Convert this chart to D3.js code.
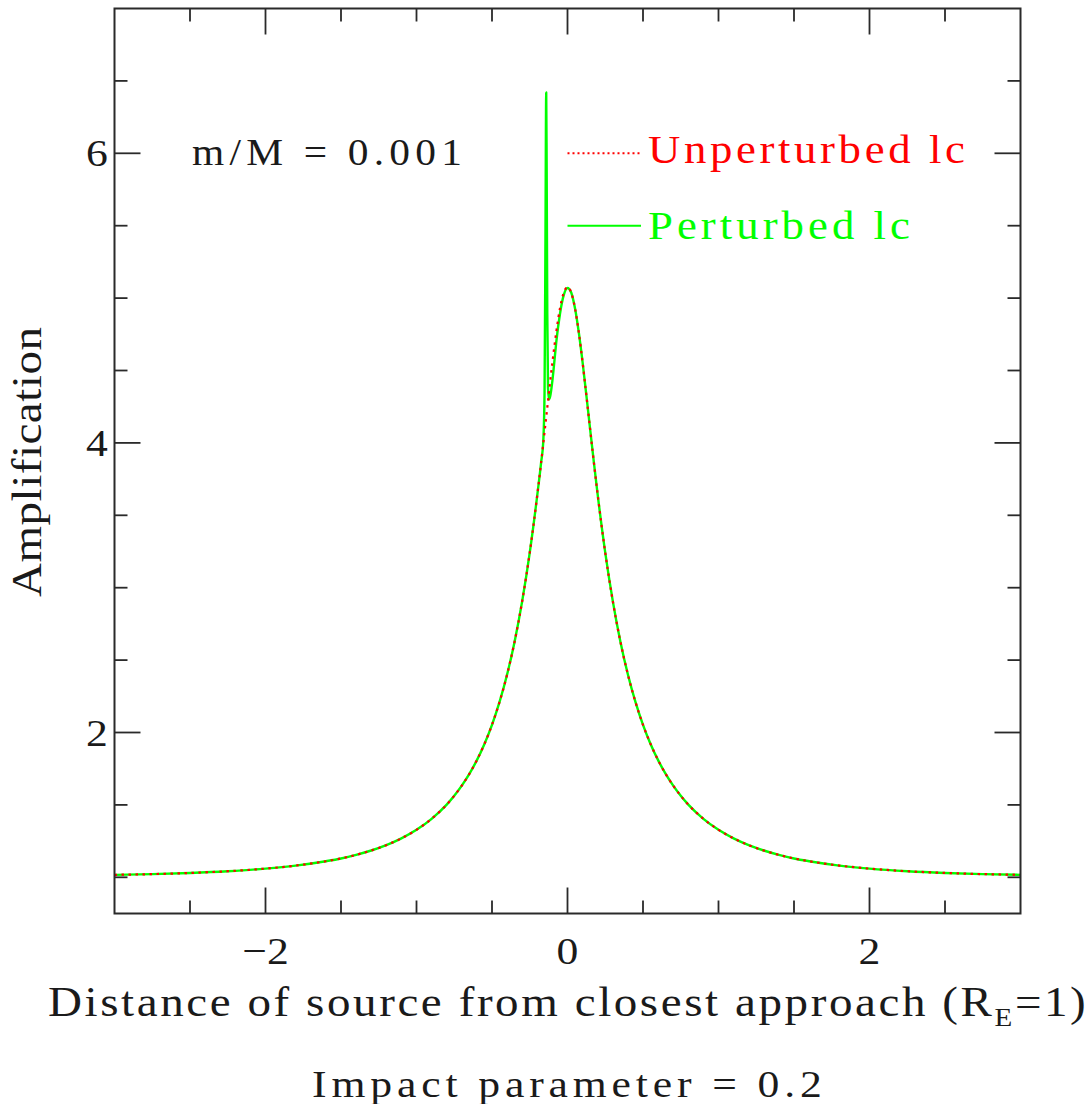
<!DOCTYPE html>
<html>
<head>
<meta charset="utf-8">
<script src="https://cdn.jsdelivr.net/npm/d3@7"></script>
<style>
  html, body { margin: 0; padding: 0; background: #fff; }
  svg { display: block; }
  text { font-family: "Liberation Serif", "DejaVu Serif", serif; fill: #1a1a1a; }
</style>
</head>
<body>
<svg id="chart" width="1092" height="1104"></svg>
<script>
// ---------- data ----------
const unpertX = [-3, -2.75, -2.5, -2.25, -2, -1.8, -1.6, -1.5, -1.4, -1.3, -1.2, -1.1, -1, -0.9, -0.8, -0.75, -0.7, -0.65, -0.6, -0.55, -0.5, -0.45, -0.4, -0.35, -0.3, -0.25, -0.2, -0.175, -0.15, -0.125, -0.1, -0.075, -0.05, -0.025, 0, 0.025, 0.05, 0.075, 0.1, 0.125, 0.15, 0.175, 0.2, 0.25, 0.3, 0.35, 0.4, 0.45, 0.5, 0.55, 0.6, 0.65, 0.7, 0.75, 0.8, 0.9, 1, 1.1, 1.2, 1.3, 1.4, 1.5, 1.6, 1.8, 2, 2.25, 2.5, 2.75, 3];
const unpertA = [1.017, 1.022, 1.030, 1.042, 1.060, 1.081, 1.111, 1.130, 1.155, 1.185, 1.222, 1.269, 1.328, 1.404, 1.502, 1.563, 1.633, 1.714, 1.809, 1.921, 2.053, 2.211, 2.400, 2.629, 2.907, 3.242, 3.641, 3.862, 4.093, 4.328, 4.556, 4.761, 4.928, 5.037, 5.075, 5.037, 4.928, 4.761, 4.556, 4.328, 4.093, 3.862, 3.641, 3.242, 2.907, 2.629, 2.400, 2.211, 2.053, 1.921, 1.809, 1.714, 1.633, 1.563, 1.502, 1.404, 1.328, 1.269, 1.222, 1.185, 1.155, 1.130, 1.111, 1.081, 1.060, 1.042, 1.030, 1.022, 1.017];

const pertX = [-3, -2.75, -2.5, -2.25, -2, -1.8, -1.6, -1.5, -1.4, -1.3, -1.2, -1.1, -1, -0.9, -0.8, -0.75, -0.7, -0.65, -0.6, -0.55, -0.5, -0.45, -0.4, -0.35, -0.3, -0.25, -0.2, -0.175, -0.16, -0.152, -0.146, -0.141, -0.138, -0.134, -0.129, -0.122, -0.115, -0.1, -0.09, -0.075, -0.05, -0.025, 0, 0.025, 0.05, 0.075, 0.1, 0.125, 0.15, 0.175, 0.2, 0.25, 0.3, 0.35, 0.4, 0.45, 0.5, 0.55, 0.6, 0.65, 0.7, 0.75, 0.8, 0.9, 1, 1.1, 1.2, 1.3, 1.4, 1.5, 1.6, 1.8, 2, 2.25, 2.5, 2.75, 3];
const pertA = [1.017, 1.022, 1.030, 1.042, 1.060, 1.081, 1.111, 1.130, 1.155, 1.185, 1.222, 1.269, 1.328, 1.404, 1.502, 1.563, 1.633, 1.714, 1.809, 1.921, 2.053, 2.211, 2.400, 2.629, 2.907, 3.242, 3.641, 3.862, 4.02, 4.35, 5.40, 6.42, 5.90, 4.90, 4.38, 4.30, 4.32, 4.43, 4.53, 4.69, 4.89, 5.02, 5.07, 5.037, 4.928, 4.761, 4.556, 4.328, 4.093, 3.862, 3.641, 3.242, 2.907, 2.629, 2.400, 2.211, 2.053, 1.921, 1.809, 1.714, 1.633, 1.563, 1.502, 1.404, 1.328, 1.269, 1.222, 1.185, 1.155, 1.130, 1.111, 1.081, 1.060, 1.042, 1.030, 1.022, 1.017];

const xMajorTicks = [-2, 0, 2];
const xMajorLabels = ["\u22122", "0", "2"];
const xMinorTicks = [-2.5, -1.5, -1, -0.5, 0.5, 1, 1.5, 2.5];
const yMajorTicks = [2, 4, 6];
const yMajorLabels = ["2", "4", "6"];
const yMinorTicks = [1, 1.5, 2.5, 3, 3.5, 4.5, 5, 5.5, 6.5];

const legendNames = ["Unperturbed lc", "Perturbed lc"];
const legendColors = ["#ff0000", "#00ff00"];
const annotation = "m/M = 0.001";
const xTitle = "Distance of source from closest approach (R";
const xTitleSub = "E";
const xTitleEnd = "=1)";
const yTitle = "Amplification";
const bottomNote = "Impact parameter = 0.2";

// ---------- layout ----------
const L = 114.5, R = 1020.5, T = 8.5, B = 913.5;
const x = d3.scaleLinear().domain([-3, 3]).range([L, R]);
const y = d3.scaleLinear().domain([0.75, 7.0]).range([B, T]);

const svg = d3.select("#chart");
const axisColor = "#2a2a2a";

// widen a text element to span [x0,x1]: glyphs stretched by sx, rest by letter spacing
function fitSpacing(sel, x0, x1, sx) {
  sx = sx || 1.12;
  const node = sel.node();
  const yb = +sel.attr("y") || 0;
  sel.attr("x", 0).attr("y", 0).attr("text-anchor", "start");
  const n = node.textContent.length;
  const target = (x1 - x0) / sx;
  let w = node.getBBox().width;
  let ls = (target - w) / Math.max(1, n - 1);
  sel.attr("letter-spacing", ls);
  const bb = node.getBBox();
  const actualW = bb.width - Math.max(0, ls);
  ls = ls + (target - actualW) / Math.max(1, n - 1);
  sel.attr("letter-spacing", ls);
  const bb2 = node.getBBox();
  sel.attr("transform", `translate(${x0 - bb2.x * sx},${yb}) scale(${sx},1)`);
}

// ---------- curves ----------
const line = d3.line()
  .x(d => x(d[0]))
  .y(d => y(d[1]))
  .curve(d3.curveMonotoneX);

const pertData = pertX.map((v, i) => [v, pertA[i]]);
const unpertData = unpertX.map((v, i) => [v, unpertA[i]]);

svg.append("path")
  .datum(pertData)
  .attr("d", line)
  .attr("fill", "none")
  .attr("stroke", legendColors[1])
  .attr("stroke-width", 2.4)
  .attr("stroke-linejoin", "round");

svg.append("path")
  .datum(unpertData)
  .attr("d", line)
  .attr("fill", "none")
  .attr("stroke", legendColors[0])
  .attr("stroke-width", 2.2)
  .attr("stroke-dasharray", "2.5,4.5");

// ---------- frame & ticks ----------
svg.append("rect")
  .attr("x", L).attr("y", T)
  .attr("width", R - L).attr("height", B - T)
  .attr("fill", "none")
  .attr("stroke", axisColor)
  .attr("stroke-width", 2);

const major = 26, minor = 13;
const tickG = svg.append("g").attr("stroke", axisColor).attr("stroke-width", 1.8);
function xTicks(vals, len) {
  vals.forEach(v => {
    tickG.append("line").attr("x1", x(v)).attr("x2", x(v)).attr("y1", B).attr("y2", B - len);
    tickG.append("line").attr("x1", x(v)).attr("x2", x(v)).attr("y1", T).attr("y2", T + len);
  });
}
function yTicks(vals, len) {
  vals.forEach(v => {
    tickG.append("line").attr("y1", y(v)).attr("y2", y(v)).attr("x1", L).attr("x2", L + len);
    tickG.append("line").attr("y1", y(v)).attr("y2", y(v)).attr("x1", R).attr("x2", R - len);
  });
}
xTicks(xMajorTicks, major);
xTicks(xMinorTicks, minor);
yTicks(yMajorTicks, major);
yTicks(yMinorTicks, minor);

// tick labels
xMajorTicks.forEach((v, i) => {
  svg.append("text")
    .attr("transform", `translate(${x(v)},964) scale(1.12,1)`)
    .attr("text-anchor", "middle")
    .attr("font-size", 39)
    .text(xMajorLabels[i]);
});
yMajorTicks.forEach((v, i) => {
  svg.append("text")
    .attr("transform", `translate(97,${y(v) + 13}) scale(1.12,1)`)
    .attr("text-anchor", "middle")
    .attr("font-size", 39)
    .text(yMajorLabels[i]);
});

// ---------- legend ----------
const legY = [6.0, 5.5];
const legX0 = 0.0, legX1 = 0.5;
svg.append("line")
  .attr("x1", x(legX0)).attr("x2", x(legX1) - 2)
  .attr("y1", y(legY[0])).attr("y2", y(legY[0]))
  .attr("stroke", legendColors[0]).attr("stroke-width", 2)
  .attr("stroke-dasharray", "2,3");
svg.append("line")
  .attr("x1", x(legX0)).attr("x2", x(legX1) - 2)
  .attr("y1", y(legY[1])).attr("y2", y(legY[1]))
  .attr("stroke", legendColors[1]).attr("stroke-width", 2);

const t1 = svg.append("text").attr("y", 163).attr("font-size", 40)
  .style("fill", legendColors[0]).text(legendNames[0]);
fitSpacing(t1, 648, 965);
const t2 = svg.append("text").attr("y", 239).attr("font-size", 40)
  .style("fill", legendColors[1]).text(legendNames[1]);
fitSpacing(t2, 648, 910);

// annotation
const ann = svg.append("text").attr("y", 165).attr("font-size", 37).text(annotation);
fitSpacing(ann, 192, 462);

// ---------- axis titles ----------
const xt = svg.append("text").attr("y", 1016).attr("font-size", 42);
xt.append("tspan").text(xTitle);
xt.append("tspan").attr("font-size", 26).attr("dy", 10).text(xTitleSub);
xt.append("tspan").attr("dy", -10).text(xTitleEnd);
fitSpacing(xt, 48, 1086);

const bn = svg.append("text").attr("y", 1097).attr("font-size", 39).text(bottomNote);
fitSpacing(bn, 312, 822);

// y title (rotated)
const ytG = svg.append("g").attr("transform", "translate(41,597) rotate(-90)");
const yt = ytG.append("text").attr("y", 0).attr("font-size", 42).text(yTitle);
fitSpacing(yt, 0, 270);
</script>
</body>
</html>
